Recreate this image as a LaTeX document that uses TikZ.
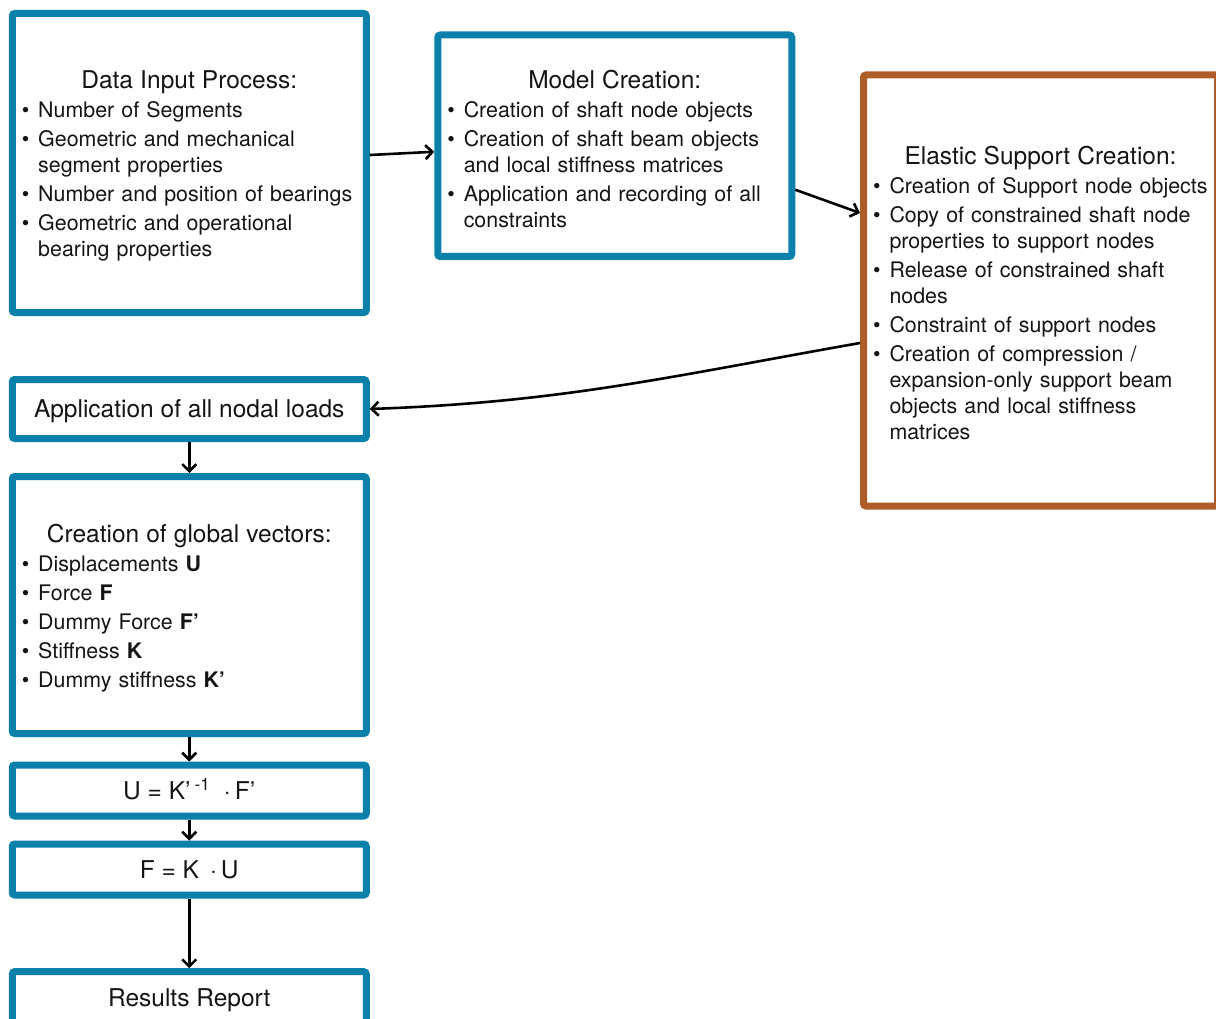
\documentclass[tikz,border=0pt]{standalone}
\usepackage{fontspec}
\setmainfont{TeX Gyre Heros}
\usepackage{xcolor}
\usetikzlibrary{arrows.meta,positioning}

\definecolor{boxblue}{RGB}{10,128,170}
\definecolor{boxbrown}{RGB}{176,92,40}
\definecolor{inktext}{RGB}{20,20,20}

\newcommand{\titlesize}{\fontsize{24.5}{29}\selectfont}
\newcommand{\itemsize}{\fontsize{21.4}{26}\selectfont}
\newcommand{\boxtitle}[1]{{\centering\titlesize #1\par}\vspace{3pt}}
\newenvironment{itemlist}{\begin{list}{\textbullet}{%
    \setlength{\leftmargin}{23pt}\setlength{\labelsep}{9pt}%
    \setlength{\labelwidth}{14pt}\setlength{\itemsep}{3pt}%
    \setlength{\parsep}{0pt}\setlength{\topsep}{0pt}%
    \setlength{\partopsep}{0pt}}}{\end{list}\vspace{-6pt}}

\begin{document}
\begin{tikzpicture}[x=1pt, y=-1pt, node distance=1cm, on grid,
    every node/.style={text=inktext},
    box/.style={draw=boxblue, line width=7pt, rounded corners=2.5pt,
                inner sep=0pt, minimum width=354pt},
    listbox/.style={box, text width=348pt, align=left, font=\itemsize},
    linebox/.style={box, minimum height=51pt, font=\titlesize,
                    text height=17.6pt, text depth=0pt},
    arr/.style={-{Straight Barb[length=7pt,width=14pt]}, line width=2.6pt}
  ]
  \useasboundingbox (0,0) rectangle (1216,1019);

  % top row
  \node[listbox, minimum height=299pt] (data) at (189.25,163) {%
    \boxtitle{Data Input Process:}
    \begin{itemlist}
      \item Number of Segments
      \item Geometric and mechanical\\segment properties
      \item Number and position of bearings
      \item Geometric and operational\\bearing properties
    \end{itemlist}};
  \node[listbox, minimum height=221.5pt] (model) [right=425.5pt of data, yshift=17.25pt] {%
    \boxtitle{Model Creation:}
    \begin{itemlist}
      \item Creation of shaft node objects
      \item Creation of shaft beam objects\\and local stiffness matrices
      \item Application and recording of all\\constraints
    \end{itemlist}};
  \node[listbox, draw=boxbrown, minimum height=431pt] (elastic) [right=425.75pt of model, yshift=-144.75pt] {%
    \boxtitle{Elastic Support Creation:}
    \begin{itemlist}
      \item Creation of Support node objects
      \item Copy of constrained shaft node\\properties to support nodes
      \item Release of constrained shaft\\nodes
      \item Constraint of support nodes
      \item Creation of compression /\\expansion-only support beam\\objects and local stiffness\\matrices
    \end{itemlist}};

  % left column
  \node[linebox, minimum height=59pt] (loads) [below=246pt of data] {Application of all nodal loads};
  \node[listbox, minimum height=257pt] (vectors) [below=196pt of loads] {%
    \boxtitle{Creation of global vectors:}
    \begin{itemlist}
      \item Displacements \textbf{U}
      \item Force \textbf{F}
      \item Dummy Force \textbf{F’}
      \item Stiffness \textbf{K}
      \item Dummy stiffness \textbf{K’}
    \end{itemlist}};
  \node[linebox] (solveU) [below=185.5pt of vectors] {U = K’\,\textsuperscript{-1}\hspace{0.55em}·\,F’};
  \node[linebox] (solveF) [below=79pt of solveU] {F = K\hspace{0.45em}·\,U};
  \node[linebox] (report) [below=127.7pt of solveF] {Results Report};

  \draw[arr] ([yshift=8pt]data.east) -- ([yshift=-6pt]model.west);
  \draw[arr] ([yshift=-44pt]model.east) -- ([yshift=77.5pt]elastic.west);
  \draw[arr] ([yshift=-52.5pt]elastic.west) to[out=190, in=2] (loads.east);
  \draw[arr] (loads) -- (vectors);
  \draw[arr] (vectors) -- (solveU);
  \draw[arr] (solveU) -- (solveF);
  \draw[arr] (solveF) -- (report);
\end{tikzpicture}
\end{document}
